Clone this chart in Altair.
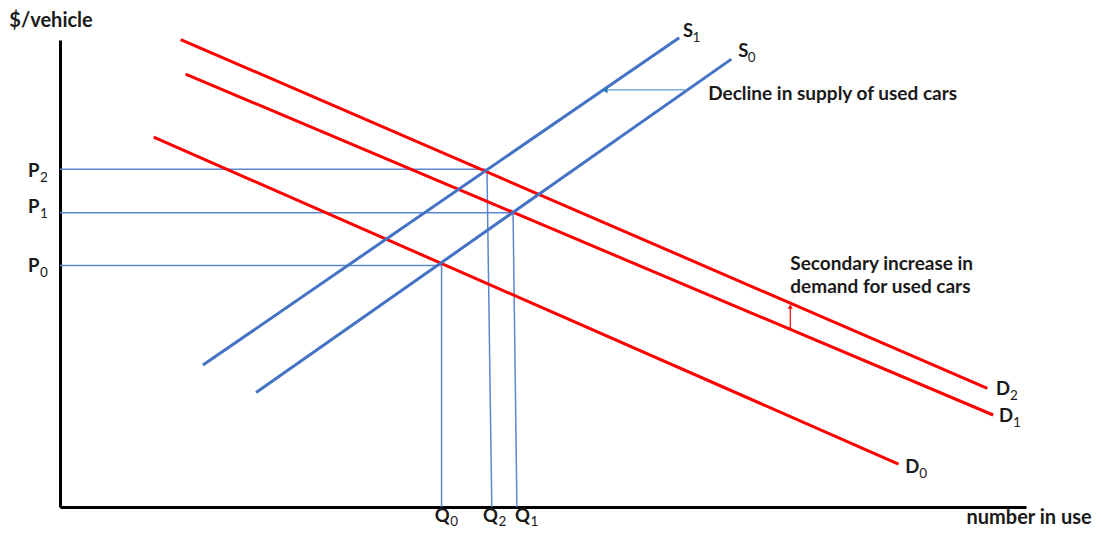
import altair as alt
import pandas as pd

# ---- data (units: quantity 0-100 along x, price 0-100 along y) ----
demand_names = ["D0", "D1", "D2"]
demand_q0 = [9.7, 13.0, 12.5]
demand_p0 = [79.2, 92.7, 100.1]
demand_q1 = [86.8, 96.6, 96.0]
demand_p1 = [9.2, 19.7, 25.4]

supply_names = ["S0", "S1"]
supply_q0 = [20.3, 14.8]
supply_p0 = [24.5, 30.4]
supply_q1 = [69.5, 64.1]
supply_p1 = [95.9, 100.5]

# equilibrium guide levels
price_names = ["P0", "P1", "P2"]
price_levels = [51.7, 63.0, 72.3]
price_q_end = [39.5, 46.9, 44.1]
qty_names = ["Q0", "Q1", "Q2"]
qty_top = [39.5, 46.9, 44.2]
qty_bottom = [39.5, 47.3, 44.7]

# curve / guide labels: letter, subscript, position
label_letters = ["P", "P", "P", "Q", "Q", "Q", "S", "S", "D", "D", "D"]
label_subs = ["2", "1", "0", "0", "2", "1", "1", "0", "2", "1", "0"]
label_q = [-3.3, -3.3, -3.3, 38.8, 43.8, 47.1, 64.5, 70.2, 96.9, 97.2, 87.5]
label_p = [70.7, 62.9, 50.4, -3.2, -3.2, -3.2, 100.7, 96.4, 24.0, 18.3, 7.2]

# annotations
note_texts = ["$/vehicle", "Decline in supply of used cars",
              "Secondary increase in", "demand for used cars"]
note_q = [-5.25, 67.1, 75.6, 75.6]
note_p = [102.8, 87.2, 50.7, 45.8]
xtitle_text = ["number in use"]
xtitle_q = [106.8]
xtitle_p = [-3.6]

# shift arrows
supply_arrow_q = [64.9, 56.4]
supply_arrow_p = [89.3, 89.3]
demand_arrow_q = [75.6, 75.6]
demand_arrow_p = [38.3, 42.9]

FONT = "Lato"
TXT = "#1a1a1a"
BLUE = "#4472C4"
GUIDE = "#5B87D0"
RED = "#FF0000"

xs = alt.Scale(domain=[0, 100], nice=False, zero=False)
ys = alt.Scale(domain=[0, 100], nice=False, zero=False)

demand = pd.DataFrame({"name": demand_names, "q0": demand_q0, "p0": demand_p0,
                       "q1": demand_q1, "p1": demand_p1})
supply = pd.DataFrame({"name": supply_names, "q0": supply_q0, "p0": supply_p0,
                       "q1": supply_q1, "p1": supply_p1})
pguides = pd.DataFrame({"name": price_names, "p": price_levels, "q0": [0, 0, 0],
                        "q1": price_q_end})
qguides = pd.DataFrame({"name": qty_names, "qt": qty_top, "qb": qty_bottom,
                        "pt": price_levels, "pb": [0, 0, 0]})
labels = pd.DataFrame({"letter": label_letters, "sub": label_subs,
                       "q": label_q, "p": label_p})
notes = pd.DataFrame({"text": note_texts, "q": note_q, "p": note_p})
xtitle = pd.DataFrame({"text": xtitle_text, "q": xtitle_q, "p": xtitle_p})
sarrow = pd.DataFrame({"q0": [supply_arrow_q[0]], "q1": [supply_arrow_q[1]],
                       "p0": [supply_arrow_p[0]], "p1": [supply_arrow_p[1]]})
darrow = pd.DataFrame({"q0": [demand_arrow_q[0]], "q1": [demand_arrow_q[1]],
                       "p0": [demand_arrow_p[0]], "p1": [demand_arrow_p[1]]})

ax = alt.Axis(title=None, labels=False, ticks=False, grid=False,
              domainColor="black", domainWidth=3)

base_axes = alt.Chart(demand).mark_rule(opacity=0).encode(
    x=alt.X("q0:Q", scale=xs, axis=ax), y=alt.Y("p0:Q", scale=ys, axis=ax))

def seg(df, color, width):
    return alt.Chart(df).mark_rule(color=color, strokeWidth=width).encode(
        x=alt.X("q0:Q", scale=xs), x2="q1:Q", y=alt.Y("p0:Q", scale=ys), y2="p1:Q")

pg = alt.Chart(pguides).mark_rule(color=GUIDE, strokeWidth=1.5).encode(
    x=alt.X("q0:Q", scale=xs), x2="q1:Q", y=alt.Y("p:Q", scale=ys))
qg = alt.Chart(qguides).mark_rule(color=GUIDE, strokeWidth=1.5).encode(
    x=alt.X("qt:Q", scale=xs), x2="qb:Q", y=alt.Y("pt:Q", scale=ys), y2="pb:Q")

dem = seg(demand, RED, 3)
sup = seg(supply, BLUE, 3)

sa = seg(sarrow, "#5B9BD5", 1.2)
sa_head = alt.Chart(sarrow).mark_point(shape="triangle-left", filled=True, size=40,
                                        color="#2E75B6", opacity=1).encode(
    x=alt.X("q1:Q", scale=xs), y=alt.Y("p1:Q", scale=ys))
da = seg(darrow, RED, 1.2)
da_head = alt.Chart(darrow).mark_point(shape="triangle-up", filled=True, size=25,
                                        color=RED, opacity=1).encode(
    x=alt.X("q1:Q", scale=xs), y=alt.Y("p1:Q", scale=ys))

lab_main = alt.Chart(labels).mark_text(font=FONT, fontWeight="bold", fontSize=18.5,
                                       align="left", baseline="alphabetic",
                                       color=TXT).encode(
    x=alt.X("q:Q", scale=xs), y=alt.Y("p:Q", scale=ys), text="letter:N")

sub_style = {"P": (12, 5), "Q": (15.5, 4), "S": (9.5, 5), "D": (14, 5)}
sub_layers = []
for letter, (dx, dy) in sub_style.items():
    sub_layers.append(
        alt.Chart(labels).transform_filter(alt.datum.letter == letter)
        .mark_text(font=FONT, fontSize=13.5, align="left", baseline="alphabetic",
                   dx=dx, dy=dy, color=TXT)
        .encode(x=alt.X("q:Q", scale=xs), y=alt.Y("p:Q", scale=ys), text="sub:N"))

note = alt.Chart(notes).transform_filter(alt.datum.text != "$/vehicle").mark_text(
    font=FONT, fontWeight="bold", fontSize=19, align="left", baseline="alphabetic",
    color=TXT).encode(x=alt.X("q:Q", scale=xs), y=alt.Y("p:Q", scale=ys), text="text:N")
ytitle = alt.Chart(notes).transform_filter(alt.datum.text == "$/vehicle").mark_text(
    font=FONT, fontWeight="bold", fontSize=20, align="left", baseline="alphabetic",
    color=TXT).encode(x=alt.X("q:Q", scale=xs), y=alt.Y("p:Q", scale=ys), text="text:N")
xt = alt.Chart(xtitle).mark_text(
    font=FONT, fontWeight="bold", fontSize=20, align="right", baseline="alphabetic",
    color=TXT).encode(x=alt.X("q:Q", scale=xs), y=alt.Y("p:Q", scale=ys), text="text:N")

chart = alt.layer(base_axes, pg, qg, dem, sup, sa, sa_head, da, da_head,
                  lab_main, *sub_layers, note, ytitle, xt).properties(
    width=966, height=467,
    background="white",
    autosize=alt.AutoSizeParams(type="none"),
    padding={"left": 52, "top": 32, "right": 67, "bottom": 22},
).configure_view(strokeWidth=0, stroke=None)

chart.save("out.html", embed_options={"renderer": "svg", "actions": False})
